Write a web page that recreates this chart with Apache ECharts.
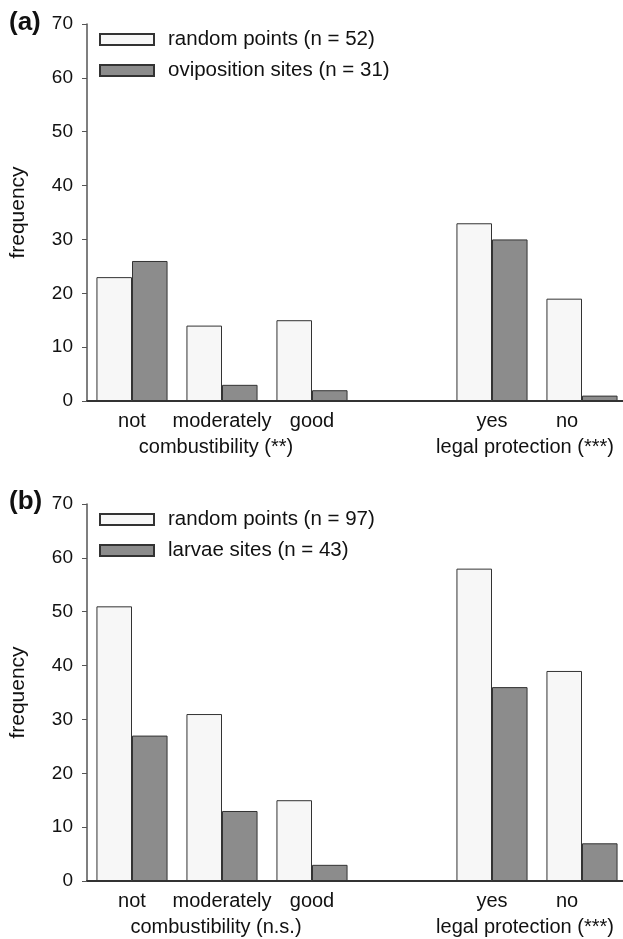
<!DOCTYPE html>
<html>
<head>
<meta charset="utf-8">
<script src="https://cdn.jsdelivr.net/npm/echarts@6/dist/echarts.min.js"></script>
<style>
  html, body { margin: 0; padding: 0; background: #fff; }
  #main { width: 623px; height: 939px; }
</style>
</head>
<body>
<div id="main"></div>
<script>
// categories (the empty one is the gap between the two factors)
const categories = ['not', 'moderately', 'good', '', 'yes', 'no'];
// group titles, placed on a half-step helper axis under the categories
const groupSlots = 13;
const groupA = { 3: 'combustibility (**)', 10: 'legal protection (***)' };
const groupB = { 3: 'combustibility (n.s.)', 10: 'legal protection (***)' };

// panel (a)
const randomA = [23, 14, 15, null, 33, 19];
const ovipositionA = [26, 3, 2, null, 30, 1];
// panel (b)
const randomB = [51, 31, 15, null, 58, 39];
const larvaeB = [27, 13, 3, null, 36, 7];

const FONT = 'Liberation Sans';
const LIGHT = '#f7f7f7';
const DARK = '#8c8c8c';
const EDGE = '#333';

const chart = echarts.init(document.getElementById('main'));

function yAxis(idx) {
  return {
    gridIndex: idx, type: 'value', min: 0, max: 70, interval: 10,
    name: 'frequency', nameLocation: 'middle', nameGap: 58, nameRotate: 90,
    nameTextStyle: { fontFamily: FONT, fontSize: 21, color: '#111' },
    axisLine: { show: true, lineStyle: { color: '#555', width: 1.5 } },
    axisTick: { show: true, length: 5, lineStyle: { color: '#555' } },
    axisLabel: { fontFamily: FONT, fontSize: 19, color: '#111', margin: 14 },
    splitLine: { show: false }
  };
}
function xAxis(idx) {
  // the "no" label sits a little left of its group in the original
  const data = categories.map(c => c === 'no'
    ? { value: c, textStyle: { padding: [0, 30, 0, 0] } }
    : c);
  return {
    gridIndex: idx, type: 'category', data: data,
    axisLine: { lineStyle: { color: '#333', width: 2 } },
    axisTick: { show: false },
    axisLabel: { fontFamily: FONT, fontSize: 20, color: '#111', margin: 10.5, interval: 0 }
  };
}
function groupAxis(idx, labels) {
  const data = [];
  for (let i = 0; i < groupSlots; i++) {
    if (i === 3) data.push({ value: labels[i], textStyle: { padding: [0, 12, 0, 0] } });
    else if (i === 10) data.push({ value: labels[i], textStyle: { padding: [0, 24, 0, 0] } });
    else data.push('');
  }
  return {
    gridIndex: idx, type: 'category', data: data, boundaryGap: false,
    position: 'bottom', offset: 26,
    axisLine: { show: false }, axisTick: { show: false },
    axisLabel: { fontFamily: FONT, fontSize: 20, color: '#111', margin: 10.5, interval: 0 }
  };
}
function bars(name, data, color, idx) {
  return {
    type: 'bar', name: name, data: data,
    xAxisIndex: idx * 2, yAxisIndex: idx,
    barGap: '0%', barCategoryGap: '21%',
    itemStyle: { color: color, borderColor: EDGE, borderWidth: 1 }
  };
}
function legend(top, names) {
  return {
    orient: 'vertical', left: 94, top: top, data: names,
    icon: 'rect', itemWidth: 54, itemHeight: 11, itemGap: 10,
    textStyle: { fontFamily: FONT, fontSize: 20.5, color: '#111', padding: [0, 0, 0, 9] }
  };
}

chart.setOption({
  animation: false,
  title: [
    { text: '(a)', left: 4, top: 5, textStyle: { fontFamily: FONT, fontSize: 26, fontWeight: 'bold', color: '#111' } },
    { text: '(b)', left: 4, top: 484, textStyle: { fontFamily: FONT, fontSize: 26, fontWeight: 'bold', color: '#111' } }
  ],
  legend: [
    legend(24, ['random points (n = 52)', 'oviposition sites (n = 31)']),
    legend(504, ['random points (n = 97)', 'larvae sites (n = 43)'])
  ],
  grid: [
    { left: 87, top: 24, width: 540, height: 377, outerBoundsMode: 'none' },
    { left: 87, top: 504, width: 540, height: 377, outerBoundsMode: 'none' }
  ],
  xAxis: [xAxis(0), groupAxis(0, groupA), xAxis(1), groupAxis(1, groupB)],
  yAxis: [yAxis(0), yAxis(1)],
  series: [
    bars('random points (n = 52)', randomA, LIGHT, 0),
    bars('oviposition sites (n = 31)', ovipositionA, DARK, 0),
    bars('random points (n = 97)', randomB, LIGHT, 1),
    bars('larvae sites (n = 43)', larvaeB, DARK, 1)
  ]
});
</script>
</body>
</html>
